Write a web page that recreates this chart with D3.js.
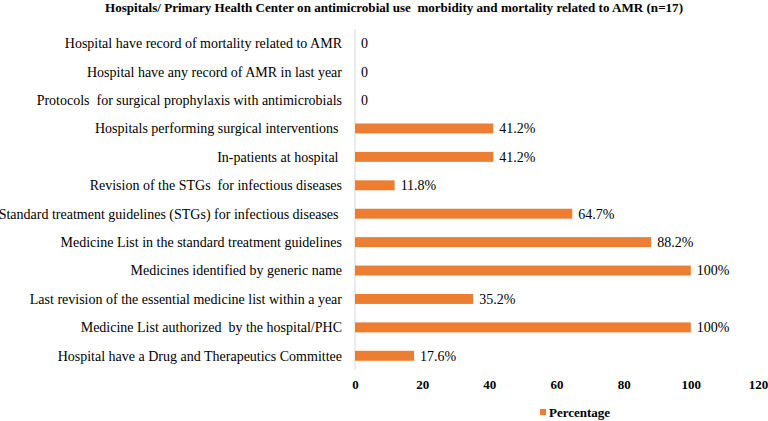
<!DOCTYPE html>
<html><head><meta charset="utf-8">
<script src="https://cdn.jsdelivr.net/npm/d3@7"></script>
<style>body{margin:0;background:#fff}svg text{white-space:pre;font-family:"Liberation Serif","Times New Roman",Tinos,"DejaVu Serif",serif}</style>
</head><body>
<svg id="c" width="768" height="421"></svg>
<script>
const categories = [
  "Hospital have record of mortality related to AMR",
  "Hospital have any record of AMR in last year",
  "Protocols  for surgical prophylaxis with antimicrobials",
  "Hospitals performing surgical interventions ",
  "In-patients at hospital ",
  "Revision of the STGs  for infectious diseases",
  "Standard treatment guidelines (STGs) for infectious diseases ",
  "Medicine List in the standard treatment guidelines",
  "Medicines identified by generic name",
  "Last revision of the essential medicine list within a year",
  "Medicine List authorized  by the hospital/PHC",
  "Hospital have a Drug and Therapeutics Committee"
];
const values = [0, 0, 0, 41.2, 41.2, 11.8, 64.7, 88.2, 100, 35.2, 100, 17.6];
const valueLabels = ["0", "0", "0", "41.2%", "41.2%", "11.8%", "64.7%", "88.2%", "100%", "35.2%", "100%", "17.6%"];
const ticks = [0, 20, 40, 60, 80, 100, 120];
const title = "Hospitals/ Primary Health Center on antimicrobial use  morbidity and mortality related to AMR (n=17)";
const seriesName = "Percentage";

(function () {
const svg = d3.select("#c");
const pLeft = 355, pRight = 758, pTop = 29, pBottom = 370;
const x = d3.scaleLinear().domain([0, 120]).range([pLeft, pRight]);
const y = d3.scaleBand().domain(categories).range([pTop, pBottom]).paddingInner(0.65).paddingOuter(0.325);
const color = "#ED7D31";

svg.append("text").attr("x", 394).attr("y", 12).attr("text-anchor", "middle")
  .attr("font-weight", "bold").attr("font-size", 12.5)
  .attr("textLength", 578).attr("lengthAdjust", "spacingAndGlyphs")
  .text(title);

svg.append("line").attr("x1", pLeft).attr("x2", pLeft).attr("y1", pTop).attr("y2", pBottom)
  .attr("stroke", "#d9d9d9").attr("stroke-width", 1);

svg.selectAll("rect.bar").data(values).join("rect").attr("class", "bar")
  .attr("x", x(0)).attr("y", (d, i) => y(categories[i]))
  .attr("width", d => x(d) - x(0)).attr("height", y.bandwidth())
  .attr("fill", color);

svg.selectAll("text.cat").data(categories).join("text").attr("class", "cat")
  .attr("x", 342).attr("y", d => y(d) + y.bandwidth() / 2).attr("dy", "0.35em")
  .attr("text-anchor", "end").attr("font-size", 14)
  .attr("fill", "#000").text(d => d);

svg.selectAll("text.val").data(values).join("text").attr("class", "val")
  .attr("x", d => x(d) + 6).attr("y", (d, i) => y(categories[i]) + y.bandwidth() / 2).attr("dy", "0.35em")
  .attr("font-size", 14).attr("fill", "#000")
  .text((d, i) => valueLabels[i]);

const ax = svg.append("g").attr("transform", `translate(0,${pBottom})`)
  .call(d3.axisBottom(x).tickValues(ticks).tickSize(0).tickPadding(10));
ax.attr("font-family", null);
ax.select(".domain").remove();
ax.selectAll("text").attr("font-weight", "bold")
  .attr("font-size", 13).attr("fill", "#000");

const lg = svg.append("g");
lg.append("rect").attr("x", 540).attr("y", 409).attr("width", 6).attr("height", 6).attr("fill", color);
lg.append("text").attr("x", 549).attr("y", 412.5).attr("dy", "0.35em")
  .attr("font-weight", "bold").attr("font-size", 13)
  .text(seriesName);
})();
</script>
</body></html>
